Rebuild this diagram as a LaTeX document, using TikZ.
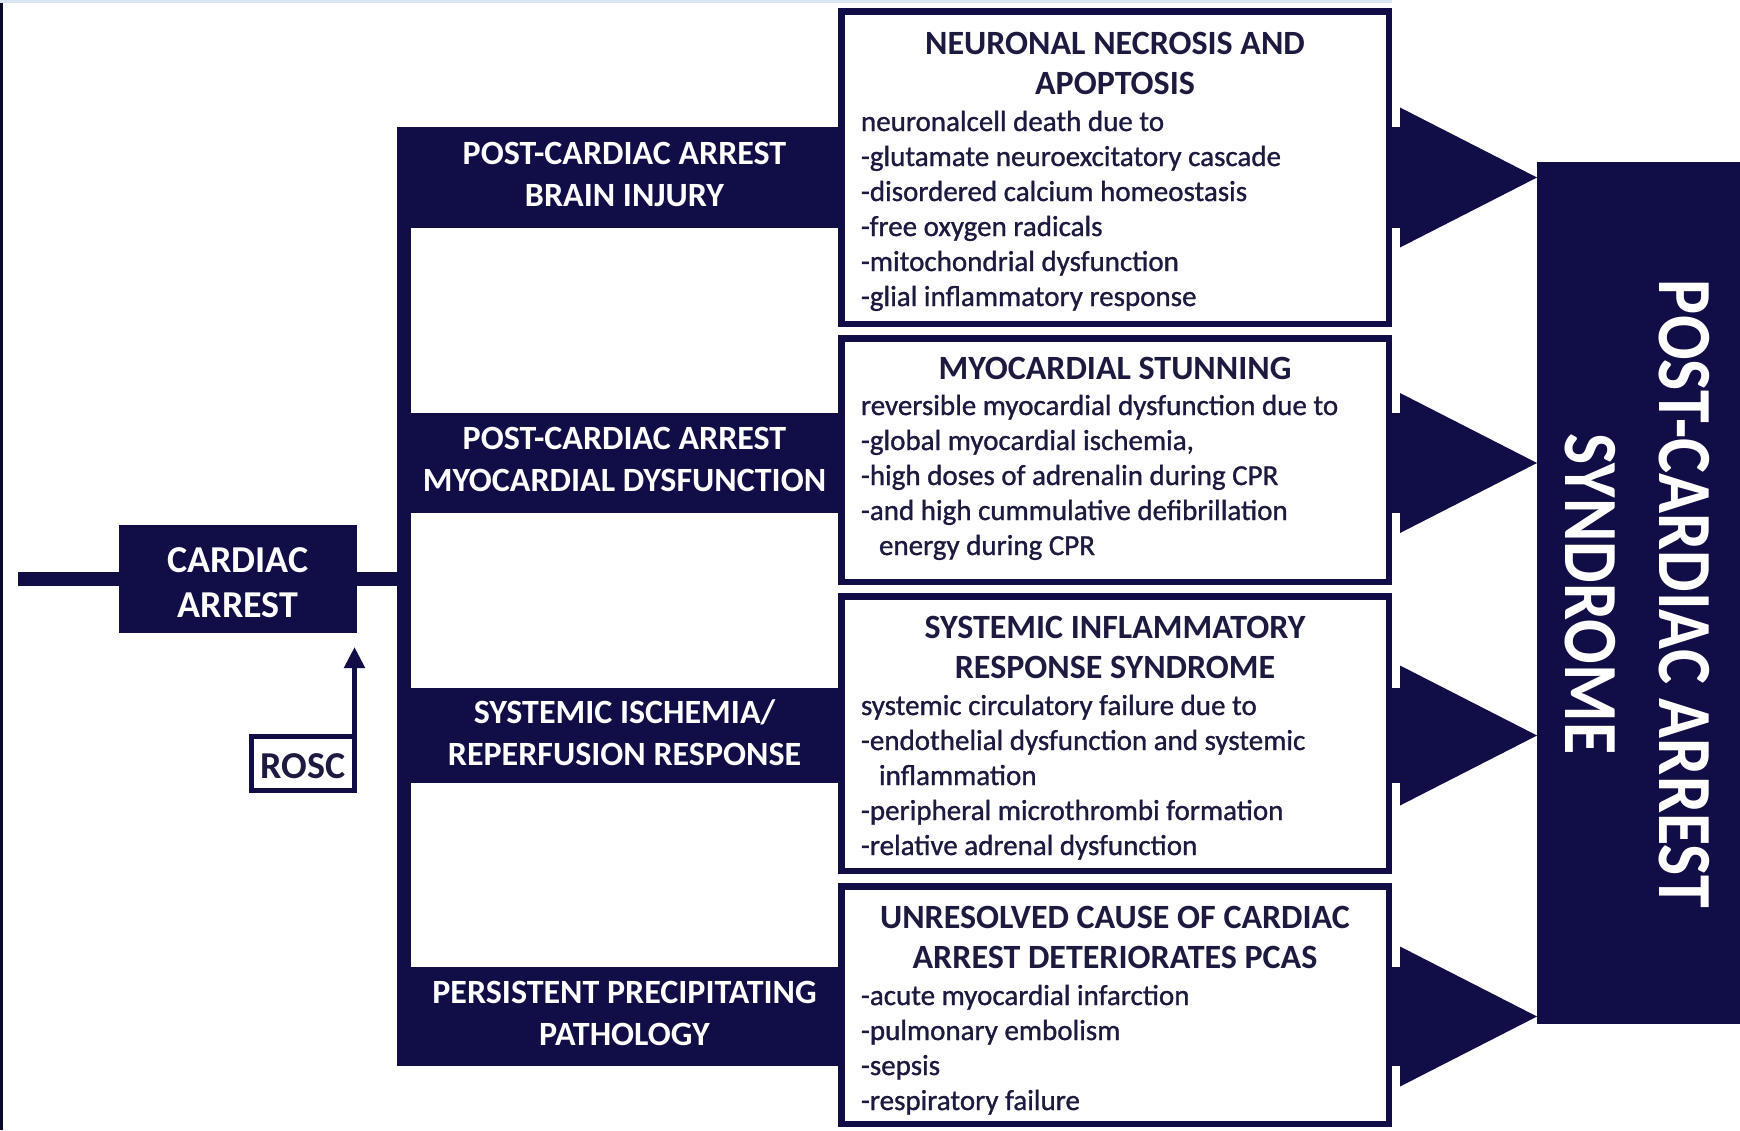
\documentclass[tikz,border=0pt]{standalone}
\usepackage{fontspec}
\setmainfont{Carlito}
\newfontfamily\bodyfont[FakeBold=1]{Carlito}
\usetikzlibrary{calc,arrows.meta}
\definecolor{navy}{HTML}{110D46}
\definecolor{ink}{HTML}{1C1A3E}
\definecolor{topblue}{HTML}{DAE5F3}
\definecolor{edgecol}{HTML}{0A0A28}
\begin{document}
\begin{tikzpicture}[x=0.5pt,y=-0.5pt,
  every node/.style={outer sep=0pt, inner sep=0pt},
  labbox/.style={fill=navy, minimum width=213.5pt, text=white,
    font=\bfseries\fontsize{17}{21}\selectfont, align=center,
    execute at end node={\rule[-3.4pt]{0pt}{0pt}}},
  detbox/.style={draw=navy, line width=3.25pt, fill=white, minimum width=273.75pt},
  dtitle/.style={text=ink, font=\bfseries\fontsize{17}{20}\selectfont, align=center, anchor=base},
  dbody/.style={text=ink, font=\bodyfont\fontsize{14.5}{17.5}\selectfont, align=left, anchor=base west},
  bigtxt/.style={text=white, font=\bfseries\fontsize{33}{40}\selectfont, rotate=-90},
  mainline/.style={draw=navy, line width=7pt},
  roscarrow/.style={draw=navy, line width=2.5pt, -{Triangle[length=10.5pt,width=10pt]}, shorten >=7pt}
]
\useasboundingbox (0,0) rectangle (1740,1130);
\fill[white] (0,0) rectangle (1740,1130);
\fill[topblue] (0,0) rectangle (1392,3);
\fill[edgecol] (0,3) rectangle (3,1130);

% label boxes
\node[labbox, minimum height=50.5pt] (labA) at (624.5,177.5) {POST-CARDIAC ARREST\\BRAIN INJURY};
\node[labbox, minimum height=50pt] (labB) at (624.5,463) {POST-CARDIAC ARREST\\MYOCARDIAL DYSFUNCTION};
\node[labbox, minimum height=47.5pt] (labC) at (624.5,735.5) {SYSTEMIC ISCHEMIA/\\REPERFUSION RESPONSE};
\node[labbox, minimum height=49.5pt] (labD) at (624.5,1016.5) {PERSISTENT PRECIPITATING\\PATHOLOGY};
\fill[navy] ($(labA.north west)+(-14,0)$) rectangle (labD.south west);

% syndrome box
\node[fill=navy, minimum width=101.5pt, minimum height=431pt] (syn) at (1638.5,593) {};
\node[bigtxt] (s1) at (1684,594) {\scalebox{1}[1.16]{POST-CARDIAC ARREST}};
\node[bigtxt] (s2) at (1590,594) {\scalebox{1}[1.16]{SYNDROME}};

% block arrows
\coordinate (hb) at (1401,0);
\foreach \L in {labA,labB,labC,labD}{
  \fill[navy] (\L.north east) rectangle (\L.south -| hb);
  \fill[navy] (\L.center -| syn.west) -- ++(-137,-70) -- ++(0,140) -- cycle;
}

% detail boxes
\node[detbox, minimum height=156.25pt] (detA) at (1115,167.5) {};
\node[detbox, minimum height=121.75pt] (detB) at (1115,460) {};
\node[detbox, minimum height=137.25pt] (detC) at (1115,733.5) {};
\node[detbox, minimum height=118.75pt] (detD) at (1115,1005) {};

% multi-line nodes: anchor base = baseline of the last line
\node[dtitle] (tA) at (1115,94) {NEURONAL NECROSIS AND\\APOPTOSIS};
\node[dbody] (bA) at (861,306) {neuronalcell death due to\\-glutamate neuroexcitatory cascade\\-disordered calcium homeostasis\\-free oxygen radicals\\-mitochondrial dysfunction\\-glial inflammatory response};
\node[dtitle] (tB) at (1115,379) {MYOCARDIAL STUNNING};
\node[dbody] (bB) at (861,555) {reversible myocardial dysfunction due to\\-global myocardial ischemia,\\-high doses of adrenalin during CPR\\-and high cummulative defibrillation\\\hspace*{9pt}energy during CPR};
\node[dtitle] (tC) at (1115,678) {SYSTEMIC INFLAMMATORY\\RESPONSE SYNDROME};
\node[dbody] (bC) at (861,855) {systemic circulatory failure due to\\-endothelial dysfunction and systemic\\\hspace*{9pt}inflammation\\-peripheral microthrombi formation\\-relative adrenal dysfunction};
\node[dtitle] (tD) at (1115,968) {UNRESOLVED CAUSE OF CARDIAC\\ARREST DETERIORATES PCAS};
\node[dbody] (bD) at (861,1110) {-acute myocardial infarction\\-pulmonary embolism\\-sepsis\\-respiratory failure};

% cardiac arrest
\coordinate (entry) at (18,579);
\node[fill=navy, minimum width=119pt, minimum height=54pt, text=white,
  font=\bfseries\fontsize{19}{22.5}\selectfont, align=center] (ca) at (238,579) {\rule{0pt}{16pt}CARDIAC\\ARREST};
\draw[mainline] (entry) -- (ca.west);
\draw[mainline] (ca.east) -- (ca.east -| labA.west);

% ROSC
\node[draw=navy, line width=2.5pt, fill=white, minimum width=51.5pt, minimum height=27pt,
  text=ink, font=\bfseries\fontsize{19}{20}\selectfont] (rosc) at (303,763.5) {\rule{0pt}{15.5pt}ROSC};
\draw[roscarrow] (rosc.north east) -- (rosc.north east |- ca.south);
\end{tikzpicture}
\end{document}
